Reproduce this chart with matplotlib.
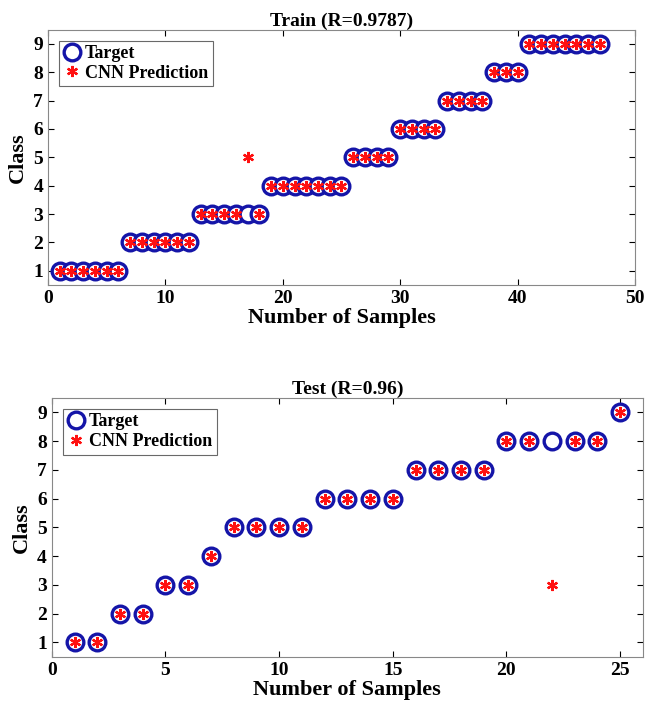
import matplotlib.pyplot as plt
import numpy as np

plt.rcParams['font.family'] = ['Liberation Serif', 'DejaVu Serif']
plt.rcParams['font.weight'] = 'bold'

train_target = [1, 1, 1, 1, 1, 1, 2, 2, 2, 2, 2, 2, 3, 3, 3, 3, 3, 3,
                4, 4, 4, 4, 4, 4, 4, 5, 5, 5, 5, 6, 6, 6, 6, 7, 7, 7, 7,
                8, 8, 8, 9, 9, 9, 9, 9, 9, 9]
train_pred = [1, 1, 1, 1, 1, 1, 2, 2, 2, 2, 2, 2, 3, 3, 3, 3, 5, 3,
              4, 4, 4, 4, 4, 4, 4, 5, 5, 5, 5, 6, 6, 6, 6, 7, 7, 7, 7,
              8, 8, 8, 9, 9, 9, 9, 9, 9, 9]
test_target = [1, 1, 2, 2, 3, 3, 4, 5, 5, 5, 5, 6, 6, 6, 6, 7, 7, 7, 7,
               8, 8, 8, 8, 8, 9]
test_pred = [1, 1, 2, 2, 3, 3, 4, 5, 5, 5, 5, 6, 6, 6, 6, 7, 7, 7, 7,
             8, 8, 3, 8, 8, 9]
titles = ['Train (R=0.9787)', 'Test (R=0.96)']

fig = plt.figure(figsize=(6.48, 7.07), dpi=100)
ax1 = fig.add_axes([0.074, 0.597, 0.906, 0.361])
ax2 = fig.add_axes([0.080, 0.071, 0.912, 0.366])

star = (6, 2, 0)


def draw(ax, target, pred, title, xmax, xticks):
    x = np.arange(1, len(target) + 1)
    ax.plot(x, target, 'o', mfc='white', mec='#1515a8', mew=2.4, ms=12,
            ls='none', label='Target')
    ax.plot(x, pred, marker=star, color='#ff1010', mew=1.6, ms=8,
            ls='none', label='CNN Prediction')
    ax.set_xlim(0, xmax)
    ax.set_ylim(0.5, 9.5)
    ax.set_xticks(xticks)
    ax.set_yticks(range(1, 10))
    ax.tick_params(direction='in', top=True, right=True, labelsize=14,
                   length=4, width=0.8, colors='black')
    for lab in ax.get_xticklabels() + ax.get_yticklabels():
        lab.set_fontweight('bold')
    for s in ax.spines.values():
        s.set_color('#888888')
        s.set_linewidth(0.8)
    ax.set_title(title, fontsize=14, fontweight='bold', pad=3)
    ax.set_xlabel('Number of Samples', fontsize=16, fontweight='bold', labelpad=1)
    ax.set_ylabel('Class', fontsize=16, fontweight='bold', labelpad=4)
    leg = ax.legend(loc='upper left', fontsize=13, frameon=True, fancybox=False,
                    handletextpad=0.2, borderpad=0.25, labelspacing=0.15,
                    handlelength=1.0, borderaxespad=0.6)
    leg.get_frame().set_edgecolor('#444444')
    leg.get_frame().set_linewidth(0.8)


draw(ax1, train_target, train_pred, titles[0], 50, [0, 10, 20, 30, 40, 50])
draw(ax2, test_target, test_pred, titles[1], 26, [0, 5, 10, 15, 20, 25])

fig.savefig('out.png', dpi=100)
